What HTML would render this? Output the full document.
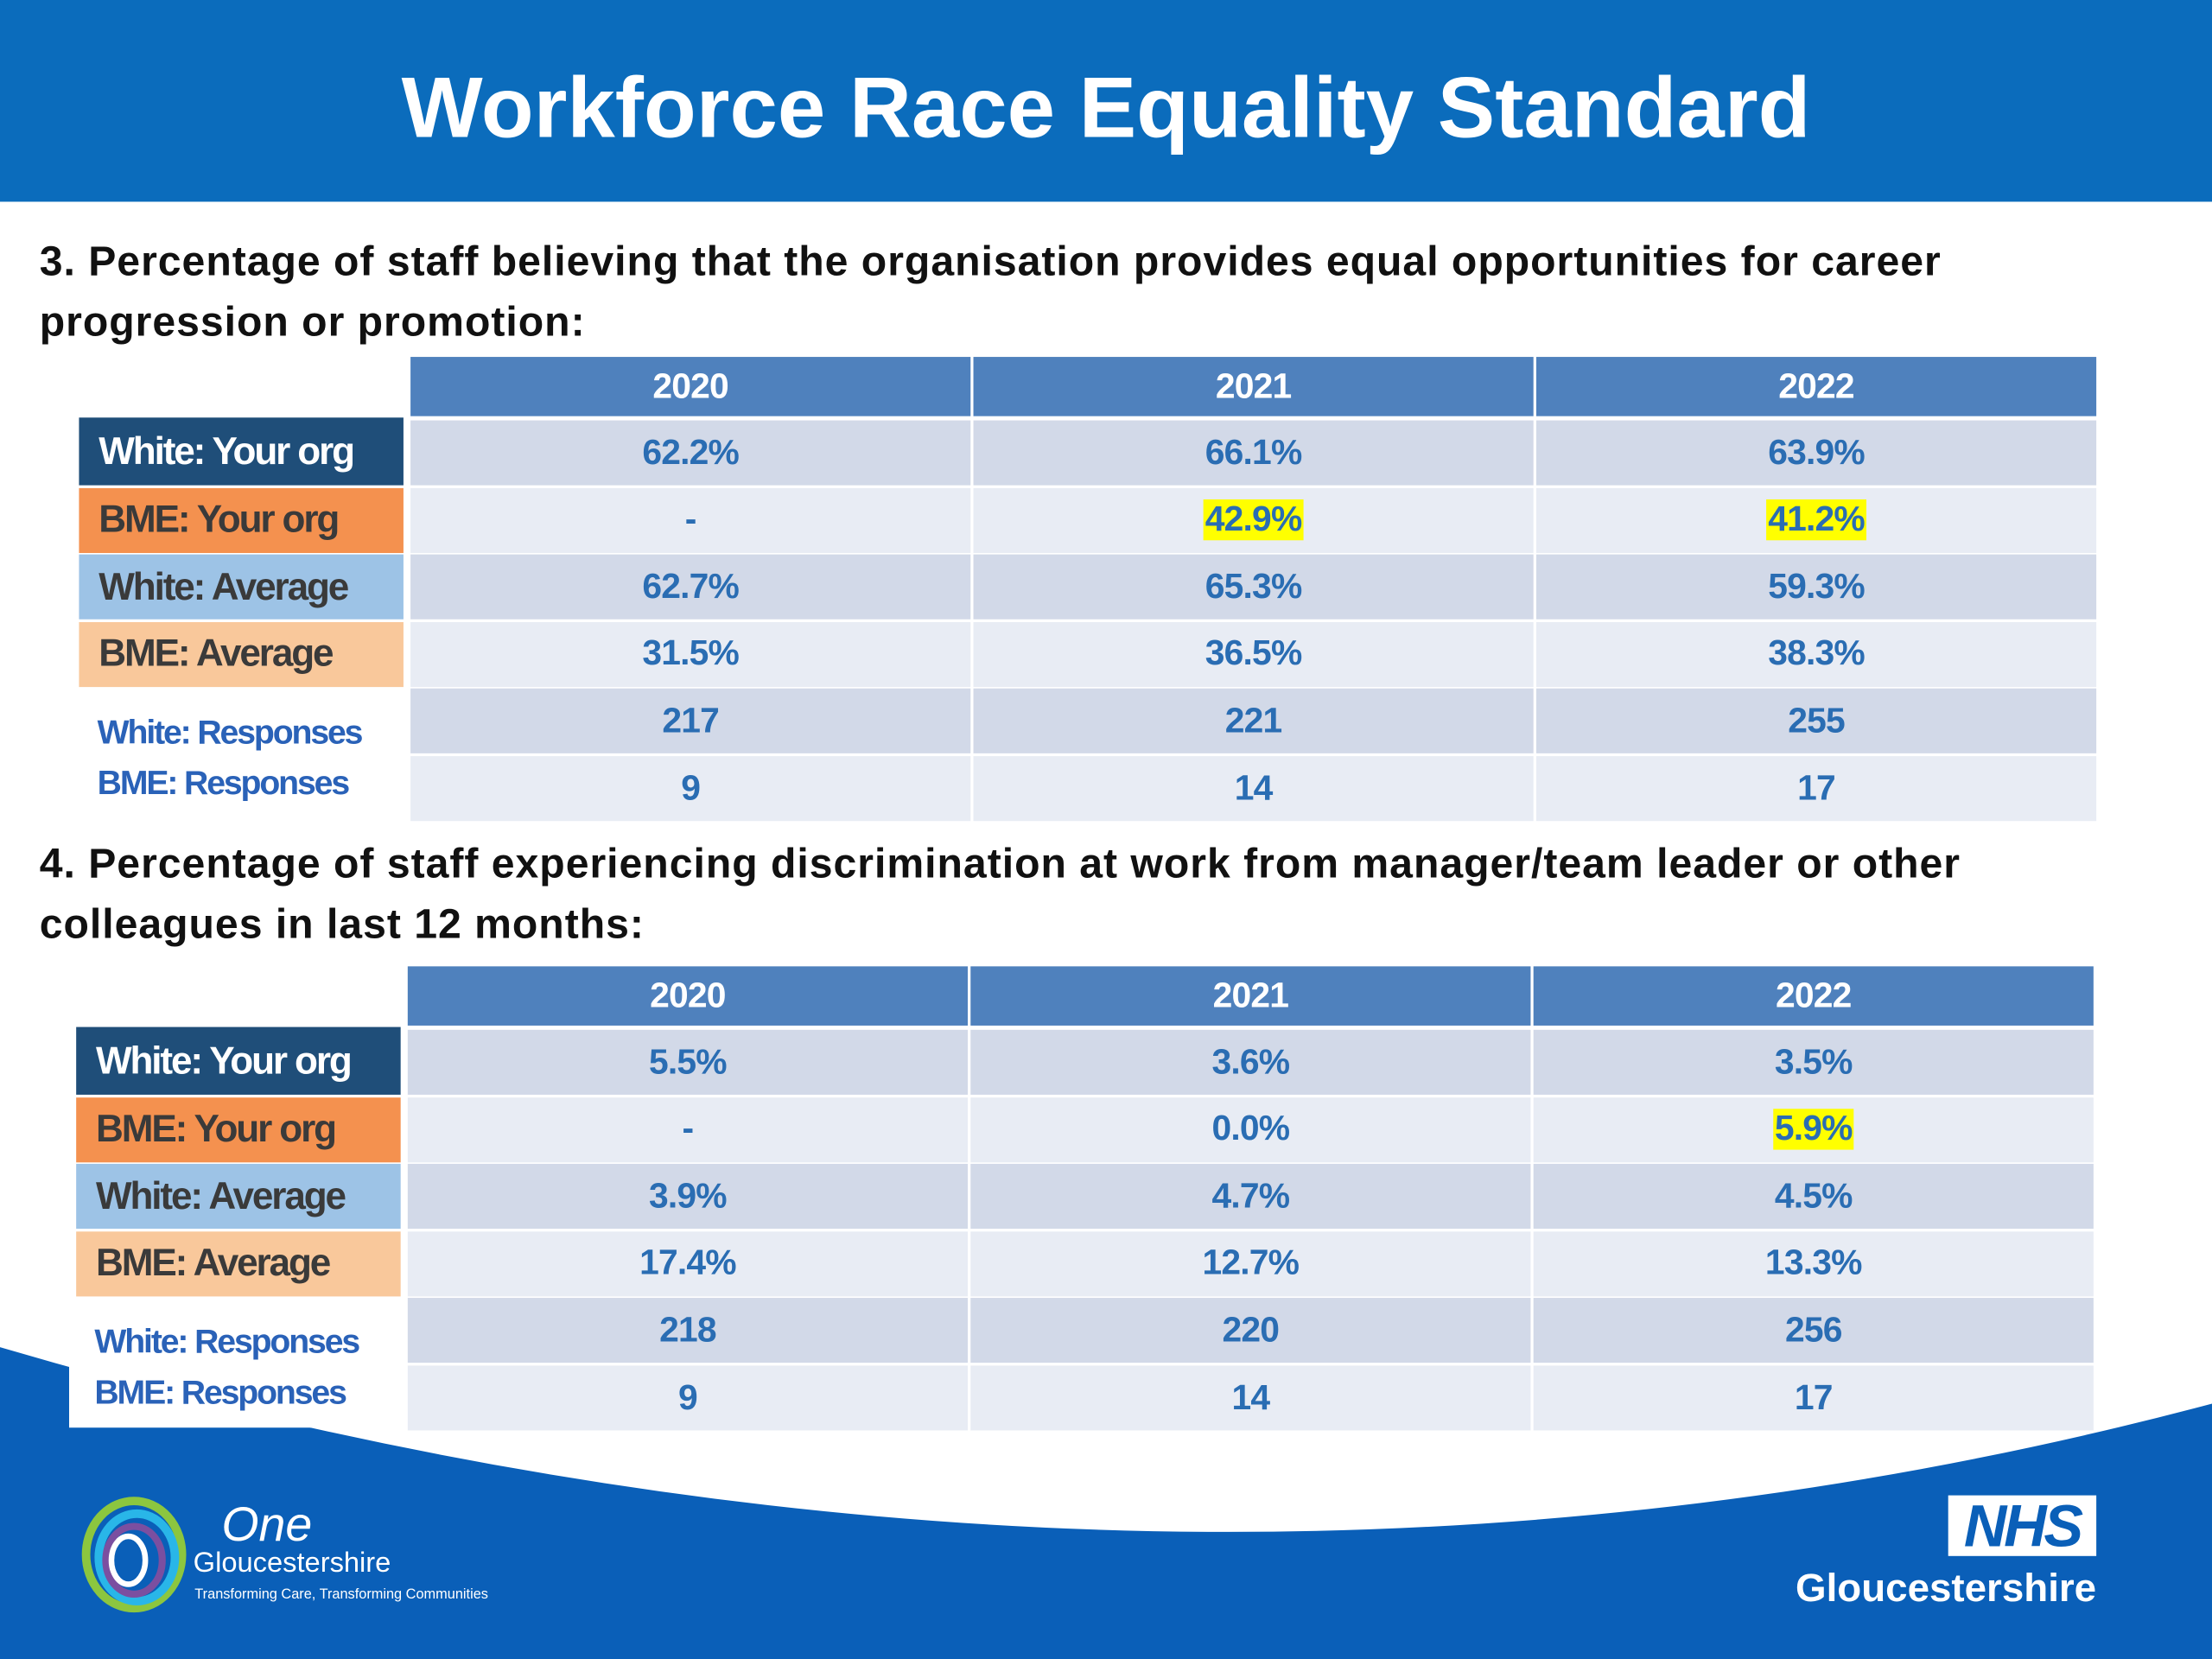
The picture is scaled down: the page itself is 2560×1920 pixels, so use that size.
<!DOCTYPE html>
<html><head><meta charset="utf-8">
<style>
html,body{margin:0;padding:0;width:2560px;height:1920px;overflow:hidden;background:#fff}
#stage{position:absolute;left:0;top:0;width:1568px;height:1176px;transform:scale(1.63265);transform-origin:0 0;font-family:"Liberation Sans",sans-serif;background:#fff}
.abs{position:absolute}
.hdr{background:#0b6cbc;left:0;top:0;width:1568px;height:143px}
.title{left:0;top:40px;width:1568px;text-align:center;color:#fff;font-weight:bold;font-size:61px;line-height:72px}
.q{left:28px;color:#111;font-weight:bold;font-size:29.5px;line-height:43px;letter-spacing:0.6px;white-space:nowrap}
.cell{position:absolute;display:flex;align-items:center;justify-content:center;font-weight:bold;font-size:25px;color:#2a6db3;letter-spacing:-0.5px}
.cell span{padding:0 1px}
.hl{background:#ffff00}
.colh{background:#4f81bd;color:#fff;font-size:25px}
.lab{position:absolute;display:flex;align-items:center;padding-left:14px;box-sizing:border-box;font-weight:bold;font-size:27px;letter-spacing:-1.3px}
.resp{position:absolute;font-weight:bold;font-size:24px;color:#2a62b8;letter-spacing:-1.3px;line-height:36px;background:#fff}
</style></head><body>
<div id="stage">
<svg class="abs" style="left:0;top:0" width="1568" height="1176">
<path d="M0,955 Q816,1195 1568,995 L1568,1176 L0,1176 Z" fill="#0a5fb8"/>
</svg>
<div class="abs hdr"></div>
<div class="abs title">Workforce Race Equality Standard</div>
<div class="abs q" style="top:164px">3. Percentage of staff believing that the organisation provides equal opportunities for career<br>progression or promotion:</div>
<div class="abs q" style="top:591px">4. Percentage of staff experiencing discrimination at work from manager/team leader or other<br>colleagues in last 12 months:</div>
<div id="tables"></div>

<svg class="abs" style="left:55px;top:1060px" width="90" height="85" viewBox="0 0 90 85">
<ellipse cx="40" cy="42" rx="34" ry="38" fill="none" stroke="#8cc63f" stroke-width="6"/>
<ellipse cx="42" cy="44" rx="27" ry="31" fill="none" stroke="#29b6e8" stroke-width="6"/>
<ellipse cx="40" cy="46" rx="20" ry="24" fill="none" stroke="#7b4fa0" stroke-width="5"/>
<ellipse cx="36" cy="46" rx="12" ry="17" fill="none" stroke="#fff" stroke-width="4"/>
</svg>
<div class="abs" style="left:157px;top:1062px;color:#fff;font-style:italic;font-size:34px;line-height:38px">One</div>
<div class="abs" style="left:137px;top:1096px;color:#fff;font-size:20px;line-height:24px">Gloucestershire</div>
<div class="abs" style="left:138px;top:1124px;color:#fff;font-size:10px;line-height:13px">Transforming Care, Transforming Communities</div>
<div class="abs" style="left:1381px;top:1060px;width:105px;height:43px;background:#fff;color:#0a5fb8;font-weight:bold;font-style:italic;font-size:42px;line-height:43px;text-align:center;letter-spacing:-2px">NHS</div>
<div class="abs" style="left:1200px;top:1108px;width:286px;text-align:right;color:#fff;font-weight:bold;font-size:28px;line-height:36px">Gloucestershire</div>
</div>
<script>
const years = ["2020","2021","2022"];
const rowLabels = ["White: Your org","BME: Your org","White: Average","BME: Average"];
const t3WhiteOrg = ["62.2%","66.1%","63.9%"];
const t3BmeOrg = ["-","42.9%","41.2%"];
const t3WhiteAvg = ["62.7%","65.3%","59.3%"];
const t3BmeAvg = ["31.5%","36.5%","38.3%"];
const t3WhiteResp = ["217","221","255"];
const t3BmeResp = ["9","14","17"];
const t4WhiteOrg = ["5.5%","3.6%","3.5%"];
const t4BmeOrg = ["-","0.0%","5.9%"];
const t4WhiteAvg = ["3.9%","4.7%","4.5%"];
const t4BmeAvg = ["17.4%","12.7%","13.3%"];
const t4WhiteResp = ["218","220","256"];
const t4BmeResp = ["9","14","17"];
const t3Highlight = [[1,1],[1,2]];
const t4Highlight = [[1,2]];

const host = document.getElementById('stage');
const labelBg = ["#1f4e79","#f4914f","#9dc3e6","#f9c89b"];
const labelFg = ["#fff","#3a3a3a","#3a3a3a","#3a3a3a"];
function buildTable(prefix, x0, y0, rows, highlights){
  const colX = [x0, x0+399, x0+798], colW = 397;
  years.forEach((y,i)=>{
    const d=document.createElement('div');
    d.className='cell colh';
    d.style.cssText=`left:${colX[i]}px;top:${y0}px;width:${colW}px;height:42px`;
    d.textContent=y;
    
    
    host.appendChild(d);
  });
  const rowTop = r => y0 + 45 + r*47.6;
  rowLabels.forEach((lbl,r)=>{
    const d=document.createElement('div');
    d.className='lab';
    d.style.cssText=`left:${x0-235}px;top:${rowTop(r)-(r==0?2:0)}px;width:230px;height:${r==0?48:46}px;background:${labelBg[r]};color:${labelFg[r]}`;
    d.textContent=lbl;
    
    
    host.appendChild(d);
  });
  rows.forEach((vals,r)=>{
    vals.forEach((v,c)=>{
      const d=document.createElement('div');
      d.className='cell';
      d.style.cssText=`left:${colX[c]}px;top:${rowTop(r)}px;width:${colW}px;height:46px;background:${r%2==0?'#d2d9e8':'#e8ecf4'}`;
      const s=document.createElement('span');
      s.textContent=v;
      if(highlights.some(h=>h[0]==r&&h[1]==c)) s.className='hl';
      d.appendChild(s);
      
      
      host.appendChild(d);
    });
  });
  const r=document.createElement('div');
  r.className='resp';
  r.style.cssText=`left:${x0-240}px;top:${rowTop(4)}px;width:236px;height:92px;padding:14px 0 0 18px;box-sizing:border-box`;
  r.innerHTML='White: Responses<br>BME: Responses';
  
  
  host.appendChild(r);
}
buildTable('q3-table',291,253,[t3WhiteOrg,t3BmeOrg,t3WhiteAvg,t3BmeAvg,t3WhiteResp,t3BmeResp],t3Highlight);
buildTable('q4-table',289,685,[t4WhiteOrg,t4BmeOrg,t4WhiteAvg,t4BmeAvg,t4WhiteResp,t4BmeResp],t4Highlight);
</script>
</body></html>
